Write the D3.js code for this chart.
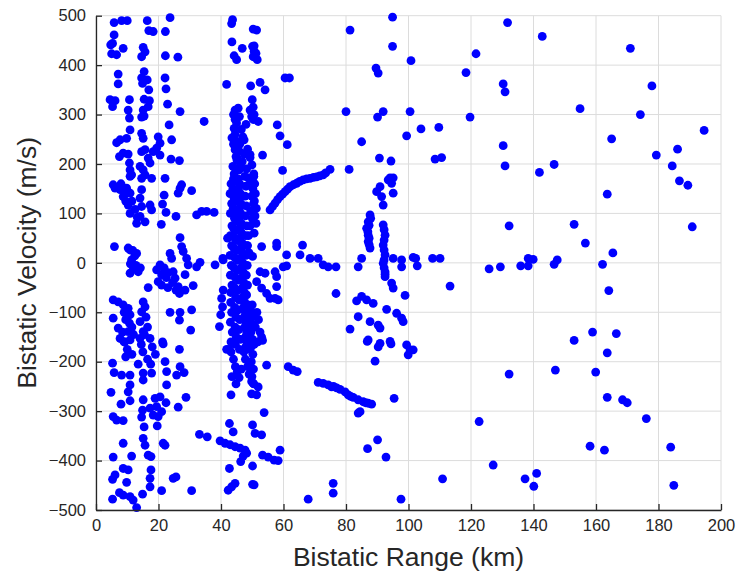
<!DOCTYPE html>
<html>
<head>
<meta charset="utf-8">
<script src="https://cdn.jsdelivr.net/npm/d3@7"></script>
<style>
  html, body { margin: 0; padding: 0; background: #fff; }
  svg { display: block; font-family: "Liberation Sans", Arial, Helvetica, sans-serif; }
</style>
</head>
<body>
<svg id="chart" width="739" height="576"></svg>
<script>
// Detections as [bistatic range (km), bistatic velocity (m/s)]

// Near-range clutter columns (0–40 km)
const nearRange = [
  [5.8,486],[8.2,490],[10.0,490],[16.4,490],[23.7,496],[16.9,470],[18.3,468],[22.2,468],[5.8,461],[5.3,444],
  [4.7,441],[8.7,434],[15.1,436],[15.7,427],[5.0,423],[6.6,421],[14.6,417],[22.2,419],[26.2,416],
  [7.1,382],[7.1,362],[15.4,387],[14.6,374],[16.4,370],[14.9,363],[22.1,374],[22.4,352],[16.9,350],[4.5,330],
  [6.1,328],[5.3,316],[10.7,330],[15.4,331],[17.1,328],[16.7,316],[15.1,309],[22.9,321],[26.9,306],[10.3,309],
  [10.7,293],[14.6,295],[15.4,297],[34.6,286],[23.4,279],[10.9,269],[14.6,262],
  [7.7,249],[6.6,243],[9.8,252],[15.1,252],[19.9,255],[20.5,242],[19.4,232],[18.3,225],[20.5,218],[24.2,249],
  [8.7,222],[7.5,215],[10.3,220],[14.6,225],[15.7,229],[16.7,212],[17.3,202],[24.0,210],[26.7,207],[10.7,202],
  [10.9,188],[11.4,178],[14.1,195],[15.1,188],[15.7,178],[22.1,171],
  [10.9,175],[14.6,171],[17.8,171],[6.1,151],[5.5,158],[7.7,148],[9.8,151],[10.9,141],[14.6,148],[8.7,134],
  [10.3,117],[10.9,100],[14.1,131],[14.6,114],[14.1,94],[13.0,80],[15.7,83],[17.3,117],[17.8,107],[26.9,151],
  [26.3,141],[27.4,158],[30.6,146],[21.8,137],[21.3,119],[22.4,102],[20.9,78],[25.6,94],[32.2,97],[33.8,104],
  [35.4,104],[37.8,102],[8.0,160],[9.3,140],[11.5,125],[12.5,108],[13.2,92],[9.5,125],
  [5.9,33],[10.9,26],[13.0,19],[11.4,6],[12.0,-11],[13.5,-18],[10.9,-21],[10.3,30],[11.8,25],[12.4,14],
  [11.0,-2],[12.8,-5],[14.2,-10],[26.9,51],[27.4,33],[27.9,23],[29.0,9],[29.5,-4],[23.7,19],[24.2,9],
  [20.5,-4],[19.4,-14],[21.0,-24],[19.9,-38],[21.0,-45],[24.7,-18],[25.3,-31],[26.3,-48],[26.7,-62],[28.5,-24],
  [28.5,-55],[31.1,-46],[33.3,1],[32.2,-8],[38.1,-4],[40.7,6],[16.7,-50],[21.8,-10],[22.5,-30],[23.1,-20],
  [24.5,-40],[25.6,-55],[23.0,-50],
  [5.5,-75],[7.1,-79],[8.7,-85],[10.3,-92],[10.9,-105],[10.7,-122],[10.3,-139],[10.9,-156],[5.5,-112],[7.1,-132],
  [7.7,-153],[15.1,-79],[15.7,-89],[14.6,-99],[14.1,-119],[15.1,-139],[14.1,-153],[17.3,-153],[23.7,-100],[26.9,-100],
  [26.7,-116],[30.6,-95],[30.3,-136],[21.3,-160],[39.5,-129],[40.7,-55],[40.2,-72],[40.5,-89],[39.9,-105],[42.1,50],
  [40.6,9],[9.0,-100],[9.5,-115],[8.5,-140],[11.5,-130],[12.0,-145],[9.2,-160],[16.0,-110],[16.5,-130],[15.5,-145],
  [26.7,-175],[21.5,-164],[5.3,-203],[5.8,-222],[8.2,-227],[10.9,-227],[15.1,-223],[17.8,-223],[22.1,-200],[22.6,-220],
  [26.9,-210],[28.2,-222],[25.8,-227],[10.9,-247],[10.3,-261],[15.1,-237],[22.6,-247],[4.8,-262],[8.0,-286],[10.9,-279],
  [15.1,-277],[14.9,-298],[18.9,-274],[20.5,-271],[22.4,-283],[19.4,-291],[21.0,-301],[19.9,-311],[18.3,-308],[17.3,-294],
  [28.8,-272],[26.3,-292],[5.5,-311],[6.6,-318],[8.7,-319],[14.6,-312],[15.4,-332],[15.1,-355],[15.7,-369],[19.6,-330],
  [8.7,-365],[21.5,-365],[22.1,-369],[16.7,-389],[17.6,-392],[5.5,-393],[11.4,-391],[8.7,-416],[10.3,-419],[6.1,-429],
  [5.3,-438],[17.6,-419],[17.3,-436],[17.3,-453],[9.8,-444],[24.7,-436],[25.6,-433],[21.0,-461],[30.6,-461],[7.5,-465],
  [8.7,-470],[10.9,-473],[11.9,-480],[5.3,-478],[14.9,-468],[13.0,-495],[33.1,-347],[35.6,-352],
  [9.0,-160],[10.0,-175],[9.5,-190],[11.5,-185],[14.5,-165],[15.0,-180],[16.5,-195],[18.0,-170],[19.0,-185],[17.5,-205],
  [13.5,-205]
];

// Dense column around 43–52 km
const midColumn = [
  [43.7,492],[43.4,484],[50.3,473],[43.5,447],[46.8,434],[44.2,419],[45.0,411],[50.1,438],[50.3,417],[41.8,361],
  [49.5,358],[44.5,309],[45.5,313],[45.9,296],[45.0,283],[44.2,272],[49.3,309],[49.8,296],[43.5,253],[44.5,229],
  [45.1,208],[45.8,188],[47.4,249],[49.3,219],[49.9,198],[48.7,172],
  [51.4,471],[50.6,439],[51.2,424],[51.6,411],[50.6,428],[52.5,365],[54.1,350],[50.0,330],[50.3,315],[50.6,300],
  [50.3,290],[51.9,286],[44.0,240],[45.5,245],[45.8,226],[45.2,212],[46.2,197],[48.5,230],[49.3,213],[50.5,180],
  [44.0,300],[44.5,290],[46.5,270],[47.0,255],[44.5,260],[48.0,280],[46.0,240],[47.5,220],[44.8,215],[46.8,205],
  [48.2,190],[43.8,195],[44.2,180],
  [45.5,170],[46.0,160],[45.6,150],[46.2,140],[45.8,130],[46.4,120],[45.9,110],[46.3,100],[45.7,90],[46.5,80],
  [46.0,70],[46.6,60],[46.1,50],[46.8,40],[46.3,30],[46.9,20],[46.4,10],[47.0,0],[46.5,-10],[47.2,-20],
  [46.7,-30],[47.3,-40],[46.9,-50],[47.5,-60],[47.0,-70],[47.6,-80],[47.2,-90],[47.8,-100],[47.4,-110],[48.0,-120],
  [47.6,-130],[48.2,-140],[47.8,-150],[48.3,-160],[47.9,-170],
  [44.8,165],[44.5,145],[44.9,125],[44.6,105],[45.0,85],[44.7,65],[45.2,45],[44.9,25],[45.4,5],[45.1,-15],
  [45.6,-35],[45.3,-55],[45.8,-75],[45.5,-95],[46.0,-115],[45.7,-135],[46.2,-155],[45.9,-175],
  [44.0,170],[43.8,150],[44.2,130],[43.9,110],[44.3,90],[44.0,70],[44.4,50],[44.1,30],[44.5,10],[44.2,-10],
  [44.6,-30],[44.3,-50],[44.7,-70],[44.4,-90],[44.8,-110],[44.5,-130],[44.9,-150],[44.6,-165],
  [47.6,175],[48.0,155],[47.7,135],[48.1,115],[47.8,95],[48.2,75],[47.9,55],[48.3,35],[48.0,15],[48.4,-5],
  [48.1,-25],[48.5,-45],[48.2,-65],[48.6,-85],[48.4,-105],[48.8,-125],[48.6,-145],[49.0,-160],
  [43.2,160],[42.9,140],[43.4,120],[43.0,100],[43.5,75],[43.0,55],[43.4,35],[42.9,15],[43.3,-5],[43.0,-25],
  [43.5,-45],[43.1,-60],[43.1,-80],[43.4,-100],[43.0,-120],[43.6,-140],[43.2,-160],[42.6,-175],
  [49.6,165],[50.2,150],[49.8,135],[50.4,120],[49.5,105],[50.0,90],[49.3,75],[48.8,55],[48.5,35],[49.0,20],
  [49.4,-95],[49.9,-110],[50.3,-125],[49.6,-140],[50.1,-155],[50.6,-165],[49.2,-175],
  [50.5,175],[50.8,160],[51.0,140],[50.7,125],[51.3,110],[50.9,95],[51.2,80],[50.6,60],
  [50.0,-85],[51.5,-100],[52.0,-115],[51.0,-130],[52.5,-140],[53.0,-150],[51.8,-160],
  [41.8,-175],[42.7,-325],[43.9,-342],[46.3,-402],[42.7,-416],[44.5,-446],[43.4,-453],[42.3,-460],[50.1,-448],[43.2,-267],
  [49.8,-265],[39.7,-360],[41.3,-365],[42.9,-368],[44.5,-372],[46.1,-375],[47.7,-379],[48.2,-385],[47.1,-391],
  [43.2,-180],[44.0,-195],[44.6,-210],[45.2,-220],[45.8,-232],[44.8,-245],[47.3,-180],[47.8,-195],[48.5,-210],[49.0,-225],
  [49.8,-240],[46.5,-215],[43.5,-230],
  [49.3,-156],[53.3,-157],[54.6,-207],[53.8,-303],[50.1,-328],[50.9,-345],[53.0,-348],[53.3,-389],[55.1,-393],[57.0,-399],
  [58.3,-400],[50.1,-411],[50.6,-449],[58.9,-379],[49.6,-170],[50.2,-185],[49.7,-200],[50.4,-215],[49.9,-230],[50.5,-245],
  [50.3,-244],[51.9,-251],[51.4,-267]
];

// Moving-target tracks between 50 and 90 km
const trackRising = [
  [55.7,107],[56.5,114],[57.3,121],[58.1,128],[58.9,134],[59.7,139],[60.5,144],[61.3,149],[62.1,154],[63.2,158],
  [64.2,161],[65.2,165],[66.3,168],[67.4,170],[68.5,171],[69.6,173],[70.6,174],[71.6,176],[72.7,178],[73.5,182],
  [74.9,189]
];
const trackZero = [
  [53.0,33],[57.8,40],[57.8,33],[66.1,36],[65.3,16],[68.5,9],[71.1,9],[72.7,-4],[74.3,-8],[76.8,-8],
  [50.1,13],[61.0,16],[61.0,-6],[59.9,-8],[52.5,-18],[54.1,-21],[57.3,-18],[57.8,-28],[51.4,-38],[53.0,-51],
  [54.6,-62],[55.7,-72],[57.3,-72],[58.3,-75],[57.8,-48],[76.8,-62]
];
const trackFalling = [
  [61.5,-210],[63.1,-217],[64.4,-220],[71.1,-242],[72.7,-244],[74.3,-247],[75.4,-251],[76.0,-250],[77.0,-253],[78.1,-256],
  [79.7,-261],[80.7,-267],[81.5,-270],[82.3,-272],[83.9,-277],[85.5,-281],[86.3,-283],[87.1,-284],[88.2,-286],[83.9,-304],
  [84.5,-301]
];

// Column around 85–100 km
const farColumn = [
  [93.5,168],[94.6,161],[90.9,154],[89.8,144],[91.4,134],[91.9,117],[95.1,141],[87.7,97],[87.1,83],[86.6,70],
  [87.1,56],[87.1,43],[87.7,30],[91.9,77],[92.5,56],[91.9,36],[92.5,16],[91.9,-1],[92.5,-18],[92.5,-28],
  [85.0,9],[83.9,-8],[95.1,9],[97.8,6],[97.8,-8],[101.5,11],[94.6,-41],[95.1,-51],[98.9,-66],[83.4,-77],
  [85.0,-68],[86.6,-75],[88.7,-82],[93.0,-94],[83.9,-109],[87.7,-119],[90.9,-132],[90.3,-126],[96.2,-102],[97.8,-112],
  [98.3,-119],[81.3,-134],[87.1,-156],[90.9,-163],[94.1,-159],[99.4,-166],[99.9,-186],[101.5,-176],[86.8,-159],[89.3,-199],
  [90.3,-170],[94.4,-164],[100.5,-176],[87.9,90],[87.4,76],[87.0,63],[87.4,50],[87.4,37],[92.2,67],[92.2,46],
  [92.2,26],[92.2,6],[92.2,-10],[92.5,-23]
];

// Sparse detections
const scattered = [
  [60.5,374],[61.9,374],[58.0,279],[58.9,257],[61.2,239],[59.7,187],[53.3,218],
  [81.3,471],[80.0,306],[85.0,245],[81.0,189],[89.6,394],[90.3,384],[94.9,497],[94.9,438],[100.8,409],[91.9,306],
  [90.1,295],[100.5,306],[99.4,257],[90.7,212],[94.4,206],[94.1,172],[95.1,172],
  [131.7,486],[142.8,458],[121.6,423],[118.4,385],[130.3,362],[130.9,346],[119.7,295],[104.0,271],[109.7,274],[130.3,237],
  [108.5,210],[110.6,213],[130.9,196],[141.9,183],[146.6,199],
  [171.0,434],[177.9,358],[154.9,312],[174.2,300],[194.6,268],[165.0,251],[186.1,230],[179.3,218],[184.4,196],[186.7,166],
  [189.4,157],[163.6,139],[153.0,78],[190.8,73],[156.6,40],[165.4,20],[162.1,-3],[164.1,-56],[158.9,-140],[166.5,-143],
  [153.0,-157],
  [132.2,75],[102.3,9],[102.8,-6],[107.7,9],[110.1,9],[113.3,-47],[125.8,-12],[129.4,-8],[135.9,-6],[138.3,9],
  [139.9,7],[138.3,-6],[146.6,-3],[147.6,6],
  [132.2,-225],[147.0,-217],[122.6,-321],[127.1,-409],[110.9,-437],[137.3,-437],[141.0,-426],[140.1,-452],
  [163.6,-182],[159.9,-221],[163.6,-272],[168.5,-277],[170.0,-283],[176.1,-315],[158.1,-371],[162.7,-379],[183.9,-373],[184.9,-450],
  [67.9,-478],[75.9,-446],[75.9,-466],[86.9,-376],[90.1,-358],[92.8,-393],[97.6,-478],[95.4,-274]
];

const xTicks = [0, 20, 40, 60, 80, 100, 120, 140, 160, 180, 200];
const yTicks = [-500, -400, -300, -200, -100, 0, 100, 200, 300, 400, 500];
const xTitle = "Bistatic Range (km)";
const yTitle = "Bistatic Velocity (m/s)";

const svg = d3.select("#chart");
const m = { left: 96, right: 721, top: 15.7, bottom: 510 };

const x = d3.scaleLinear().domain([0, 200]).range([m.left, m.right]);
const y = d3.scaleLinear().domain([-500, 500]).range([m.bottom, m.top]);

// grid
const grid = svg.append("g").attr("stroke", "#dcdcdc").attr("stroke-width", 1);
grid.selectAll("line.gx").data(xTicks).join("line")
  .attr("x1", d => x(d)).attr("x2", d => x(d))
  .attr("y1", m.top).attr("y2", m.bottom);
grid.selectAll("line.gy").data(yTicks).join("line")
  .attr("x1", m.left).attr("x2", m.right)
  .attr("y1", d => y(d)).attr("y2", d => y(d));

// markers
const allPoints = [].concat(nearRange, midColumn, trackRising, trackZero, trackFalling, farColumn, scattered);
svg.append("g").attr("fill", "#0000ff")
  .selectAll("circle").data(allPoints).join("circle")
  .attr("cx", d => x(d[0])).attr("cy", d => y(d[1])).attr("r", 4.4);

// axes
const axisColor = "#262626";
const xAxis = svg.append("g").attr("transform", `translate(0,${m.bottom})`)
  .call(d3.axisBottom(x).tickValues(xTicks).tickSizeInner(-6).tickSizeOuter(0).tickPadding(9));
const yAxis = svg.append("g").attr("transform", `translate(${m.left},0)`)
  .call(d3.axisLeft(y).tickValues(yTicks).tickSizeInner(-6).tickSizeOuter(0).tickPadding(10));
[xAxis, yAxis].forEach(a => {
  a.selectAll("path").attr("stroke", axisColor).attr("stroke-width", 1.3);
  a.selectAll("line").attr("stroke", axisColor).attr("stroke-width", 1.3);
  a.selectAll("text").attr("fill", axisColor).style("font-size", "16.5px")
    .style("font-family", "'Liberation Sans', Arial, sans-serif");
});

svg.append("text").attr("x", (m.left + m.right) / 2).attr("y", 566)
  .attr("text-anchor", "middle").attr("fill", axisColor)
  .style("font-size", "26.5px").text(xTitle);
svg.append("text").attr("transform", `translate(36,${(m.top + m.bottom) / 2}) rotate(-90)`)
  .attr("text-anchor", "middle").attr("fill", axisColor)
  .style("font-size", "26.5px").text(yTitle);
</script>
</body>
</html>
